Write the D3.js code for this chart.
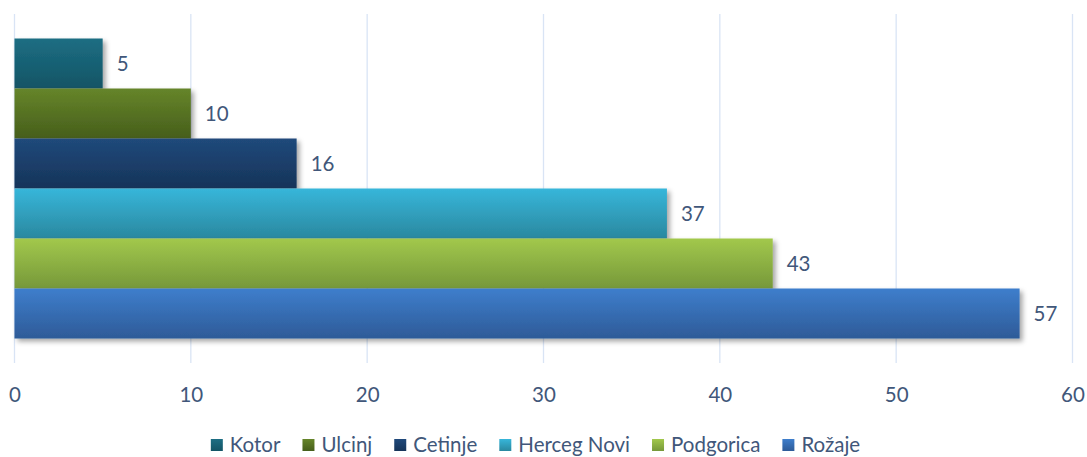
<!DOCTYPE html>
<html>
<head>
<meta charset="utf-8">
<script src="https://cdn.jsdelivr.net/npm/d3@7"></script>
<style>
  body { margin: 0; background: #fff; }
  text { font-family: Lato, "Open Sans", sans-serif; }
</style>
</head>
<body>
<div id="chart"></div>
<script>
const width = 1087;
const height = 457;

// data
const cities = ["Kotor", "Ulcinj", "Cetinje", "Herceg Novi", "Podgorica", "Rožaje"];
const values = [5, 10, 16, 37, 43, 57];
const topColors = ["#1d6e83", "#66852a", "#20497b", "#37b6da", "#a2c84c", "#3e7ecc"];
const bottomColors = ["#135465", "#465e1b", "#163459", "#2a889f", "#76983a", "#2e5b98"];
const xTicks = [0, 10, 20, 30, 40, 50, 60];

const textColor = "#41577a";
const fontSize = "20.5px";

const svg = d3.select("#chart")
  .append("svg")
  .attr("width", width)
  .attr("height", height);

const defs = svg.append("defs");

cities.forEach((c, i) => {
  const g = defs.append("linearGradient")
    .attr("id", "grad" + i)
    .attr("x1", 0).attr("y1", 0).attr("x2", 0).attr("y2", 1);
  g.append("stop").attr("offset", "0%").attr("stop-color", topColors[i]);
  g.append("stop").attr("offset", "100%").attr("stop-color", bottomColors[i]);
});

defs.append("filter")
  .attr("id", "shadow")
  .attr("x", "-5%").attr("y", "-20%").attr("width", "115%").attr("height", "160%")
  .append("feDropShadow")
  .attr("dx", 3).attr("dy", 3)
  .attr("stdDeviation", 2.5)
  .attr("flood-color", "#000")
  .attr("flood-opacity", 0.35);

// scales
const x = d3.scaleLinear()
  .domain([0, 60])
  .range([14.5, 1072.5]);

const y = d3.scaleBand()
  .domain(cities)
  .range([14, 363])
  .paddingInner(0)
  .paddingOuter(0.49);

// gridlines
svg.append("g")
  .selectAll("line")
  .data(xTicks)
  .enter()
  .append("line")
  .attr("x1", d => x(d))
  .attr("x2", d => x(d))
  .attr("y1", 14)
  .attr("y2", 363)
  .attr("stroke", "#d9e4f5")
  .attr("stroke-width", 1.3);

// bars
svg.append("g")
  .selectAll("rect")
  .data(cities)
  .enter()
  .append("rect")
  .attr("x", x(0))
  .attr("y", d => y(d))
  .attr("width", (d, i) => x(values[i]) - x(0))
  .attr("height", y.bandwidth())
  .attr("fill", (d, i) => `url(#grad${i})`)
  .attr("filter", "url(#shadow)");

// value labels
svg.append("g")
  .selectAll("text")
  .data(cities)
  .enter()
  .append("text")
  .attr("x", (d, i) => x(values[i]) + 14)
  .attr("y", d => y(d) + y.bandwidth() / 2)
  .attr("dy", "0.35em")
  .attr("fill", textColor)
  .style("font-size", fontSize)
  .text((d, i) => values[i]);

// x axis labels
const xAxis = svg.append("g")
  .attr("transform", "translate(0,363)")
  .call(d3.axisBottom(x).tickValues(xTicks).tickSize(0).tickPadding(24));
xAxis.select(".domain").remove();
xAxis.selectAll("text")
  .attr("fill", textColor)
  .style("font-size", fontSize)
  .style("font-family", "Lato, 'Open Sans', sans-serif");

// legend
const legend = svg.append("g");
const items = legend.selectAll("g")
  .data(cities)
  .enter()
  .append("g");

items.append("rect")
  .attr("width", 12)
  .attr("height", 12)
  .attr("y", -6)
  .attr("fill", (d, i) => `url(#grad${i})`);

items.append("text")
  .attr("x", 19)
  .attr("dy", "0.35em")
  .attr("fill", textColor)
  .style("font-size", fontSize)
  .text(d => d);

let offset = 0;
items.each(function() {
  const w = this.querySelector("text").getComputedTextLength();
  d3.select(this).attr("transform", `translate(${offset},0)`);
  offset += 19 + w + 22;
});
const total = offset - 22;
legend.attr("transform", `translate(${(width - total) / 2 - 8},445)`);
</script>
</body>
</html>
